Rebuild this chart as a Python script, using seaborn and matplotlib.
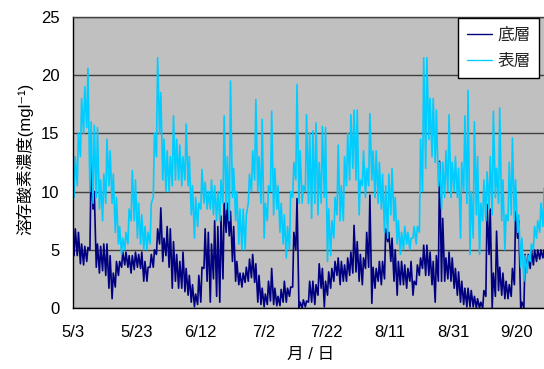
import numpy as np
import pandas as pd
import matplotlib
matplotlib.use("Agg")
import matplotlib.pyplot as plt
import seaborn as sns

# Daily low (early morning) and high (afternoon) dissolved-oxygen readings, mg/l,
# one value per day starting 5/3.
surface_low = [
    9.5, 10.5, 13, 15, 15.5, 10, 9, 9.5, 8.5, 7.5,
    9, 10.5, 9, 6.5, 5.5, 4.6, 5, 5.5, 7.5, 7.5,
    6, 5.5, 5, 5, 5.5, 9.5, 13, 15, 11, 10,
    10, 10.5, 11, 11, 10.5, 11, 10.5, 8, 6, 7,
    8.5, 9, 8.5, 8.5, 8, 7.5, 7.5, 9, 8.5, 7.5,
    9.5, 7.5, 5.5, 5, 5, 9, 10, 11, 10, 9,
    6, 7.5, 10, 8, 8.5, 6.5, 5.5, 4.3, 5, 9.5,
    11, 9, 9, 10, 9, 7.7, 9, 8, 9, 9.5,
    4, 4.5, 6, 8, 7.5, 7.5, 10.5, 11, 12, 11,
    8, 10.5, 9.5, 10.5, 11, 9.5, 9, 8.5, 6.5, 6,
    8, 7.5, 5.5, 4.6, 5, 5.5, 5, 6, 5.5, 6.5,
    10, 12, 14.5, 13, 12.5, 10.5, 8.5, 9.5, 10, 9.5,
    10, 9.5, 6, 10, 9, 4.6, 6, 8, 4.6, 7.5,
    7.5, 8.5, 8, 9.5, 9, 7.5, 5, 7.5, 8, 7.5,
    6.5, 3.5, 2.3, 3, 4, 5, 6, 6.5, 7,
]
surface_high = [
    13, 15, 18, 19, 20.6, 16, 15.7, 15.5, 11, 11.5,
    14.5, 13.5, 11.5, 9.5, 7, 6, 6.5, 8.5, 11.8, 11,
    9, 8, 7, 6.5, 9, 15, 21.5, 18.5, 14.5, 13.5,
    13, 16.5, 14.5, 14, 13, 15.8, 13, 10.5, 9.5, 9,
    11.9, 10.8, 10, 11, 10.5, 10, 11, 16.5, 13, 19.5,
    12, 10, 8.5, 8.5, 8, 11.5, 13.5, 17.9, 13, 16.2,
    9, 10.5, 16.9, 12, 10.5, 9, 8, 7, 10, 12.5,
    19.2, 13.5, 10.5, 16.6, 15, 15.2, 15.9, 12.5, 15.6, 15.5,
    8.5, 7.5, 9.5, 14, 10.5, 13, 15, 16.6, 17, 17,
    11, 13.5, 12, 16.7, 13.5, 13.5, 12.5, 11.5, 10.5, 11.5,
    12, 9.5, 7.5, 6.5, 7, 6.5, 6, 7, 7, 14.5,
    21.5, 21.5, 18, 18, 17, 12.5, 12.5, 13.5, 16.6, 12.5,
    13, 12, 12.5, 16.5, 18.7, 10, 16, 13, 9, 11,
    11.7, 13, 16.9, 12, 17.2, 11, 8, 12.5, 14.6, 11,
    8, 6, 4.5, 4.5, 5.5, 7, 7.5, 9, 10.3,
]
bottom_low = [
    4.5, 4.5, 3.8, 3.7, 4, 5, 8.5, 3.5, 3, 3.2,
    2.8, 1.7, 0.8, 1.8, 2.8, 3.5, 3.7, 3.5, 3, 3.3,
    3.5, 3.4, 2.3, 2.3, 3.5, 3.5, 4.6, 5.5, 4, 4.5,
    3.5, 1.7, 2.3, 1.7, 1.7, 1.4, 1.1, 0.5, 0.1, 0.3,
    0.5, 3.4, 2.3, 0.5, 2.5, 1, 0.5, 2.5, 6.5, 6.2,
    4, 2.3, 2, 1.8, 2.2, 2.3, 2.6, 2.2, 0.5, 0.3,
    0.1, 0.3, 0.6, 0.3, 0.2, 0.2, 0.5, 0.5, 1, 1.8,
    5, 0, 0, 0.1, 0.5, 0.5, 0.3, 1.1, 1.7, 0.1,
    1.1, 1.7, 2.3, 2.8, 2, 2.3, 2.3, 2.8, 3, 3.1,
    2.3, 2, 3.4, 3.5, 0.4, 1.7, 2.3, 2, 2.5, 5.7,
    4, 2.3, 1.1, 2, 2, 1.7, 2.3, 1.1, 2, 2.8,
    3.4, 2.8, 2.8, 2, 0.5, 2.3, 2.3, 2.3, 2.5, 2.3,
    1.7, 1.1, 0.5, 0.3, 0.1, 0.1, 0.1, 0, 0, 0,
    1, 4.6, 0, 1, 1.5, 1.1, 0.8, 0.8, 1, 2,
    6, 0, 0, 3.1, 3.4, 3.7, 4, 4.2, 4.3,
]
bottom_high = [
    6.8, 6.5, 5.5, 5.3, 5.2, 12.6, 10, 5.5, 5.3, 5.5,
    5.5, 4.5, 3, 4, 4, 4.8, 4.8, 4.5, 4.5, 4.8,
    4.6, 4.8, 4, 3.5, 4.6, 5, 6.8, 8.6, 6, 7,
    6.8, 5.7, 4.6, 4, 4.8, 3.4, 2.8, 2, 1.2, 2.8,
    3.5, 6.8, 6.5, 5.5, 7.5, 7, 7.9, 9, 9, 8.3,
    7, 4, 3, 3, 3.5, 4.2, 4.6, 3.8, 2.8, 1.7,
    1.2, 2.3, 3.4, 1.7, 1, 1.6, 2.3, 1.7, 1.8, 6.5,
    9.4, 0.5, 0.7, 0.6, 2.3, 2.3, 2, 3.8, 3.4, 2.3,
    3.1, 3.4, 4, 4.3, 4, 3.7, 4.3, 4.8, 7.1, 5.7,
    4.6, 4.3, 6.5, 9.7, 3.5, 3.4, 4, 4, 6.8, 6.5,
    6, 5, 4, 4, 3.7, 3.4, 4, 2.3, 3.7, 4.3,
    5.4, 5.4, 4.8, 4, 4.5, 12.6, 7.7, 4.3, 4.8, 4.3,
    3.4, 3.1, 2.3, 1.7, 1.7, 1.5, 1, 0.8, 0.5, 1.5,
    8.9, 8.5, 3, 6.6, 3.5, 3, 2.3, 2, 3.4, 8.3,
    7.5, 0.5, 4.6, 4.6, 5, 5, 5, 5, 5,
]

layer_names = ["底層", "表層"]
layer_colors = ["#000080", "#00CCFF"]
tick_labels = ["5/3", "5/23", "6/12", "7/2", "7/22", "8/11", "8/31", "9/20"]
year = 2007

start = pd.Timestamp(f"{year}-05-03")
days = np.arange(len(surface_low))


def layer_frame(name, low, high):
    lows = pd.DataFrame({"日時": start + pd.to_timedelta(days + 0.25, unit="D"), "濃度": low})
    highs = pd.DataFrame({"日時": start + pd.to_timedelta(days + 0.625, unit="D"), "濃度": high})
    frame = pd.concat([lows, highs]).sort_values("日時").reset_index(drop=True)
    frame["層"] = name
    return frame


df = pd.concat([
    layer_frame(layer_names[0], bottom_low, bottom_high),
    layer_frame(layer_names[1], surface_low, surface_high),
], ignore_index=True)

sns.set_theme(style="white")
plt.rcParams["font.family"] = ["Liberation Sans", "Noto Sans CJK JP", "DejaVu Sans"]

W, H = 544, 369
fig = plt.figure(figsize=(W / 100, H / 100), dpi=100)
left_px, top_px, bottom_px = 73.3, 17, 308
ax = fig.add_axes([left_px / W, 1 - bottom_px / H, 1 - left_px / W, (bottom_px - top_px) / H])
ax.set_facecolor("#C0C0C0")

sns.lineplot(
    data=df, x="日時", y="濃度", hue="層", hue_order=layer_names,
    palette=dict(zip(layer_names, layer_colors)), estimator=None, sort=False,
    linewidth=1.2, ax=ax,
)

ax.set_ylim(0, 25)
ax.set_yticks(np.arange(0, 26, 5))
ax.set_xlim(start, start + pd.Timedelta(days=148.6))
tick_pos = pd.to_datetime([f"{year}/{s}" for s in tick_labels], format="%Y/%m/%d")
ax.set_xticks(tick_pos)
ax.set_xticklabels(tick_labels)

ax.yaxis.grid(True, color="#404040", linewidth=1)
ax.xaxis.grid(False)
ax.set_axisbelow(True)

for side in ("left", "bottom"):
    ax.spines[side].set_color("black")
    ax.spines[side].set_linewidth(1)
ax.spines["top"].set_color("#404040")
ax.spines["top"].set_linewidth(1)
ax.spines["right"].set_visible(False)

ax.tick_params(axis="x", direction="in", length=5, width=1, color="black",
               pad=12, labelsize=12, labelcolor="black")
ax.tick_params(axis="y", direction="in", length=0, pad=10, labelsize=12,
               labelcolor="black")

ax.set_xlabel("月 / 日", fontsize=12, color="black")
ax.xaxis.set_label_coords(0.505, -0.135)
ax.set_ylabel("溶存酸素濃度(mgl⁻¹)", fontsize=12, color="black")
ax.yaxis.set_label_coords(-0.085, 0.512)

handles, labels = ax.get_legend_handles_labels()
leg = ax.legend(
    handles, labels, loc="upper left", bbox_to_anchor=(0.817, 0.997),
    fontsize=12, frameon=True, fancybox=False, framealpha=1, facecolor="white",
    edgecolor="black", borderpad=0.55, handlelength=1.5, handletextpad=0.3,
    labelspacing=0.7, borderaxespad=0,
)
leg.get_frame().set_linewidth(1)
for line in leg.get_lines():
    line.set_linewidth(1.0)

fig.savefig("out.png", dpi=100)
